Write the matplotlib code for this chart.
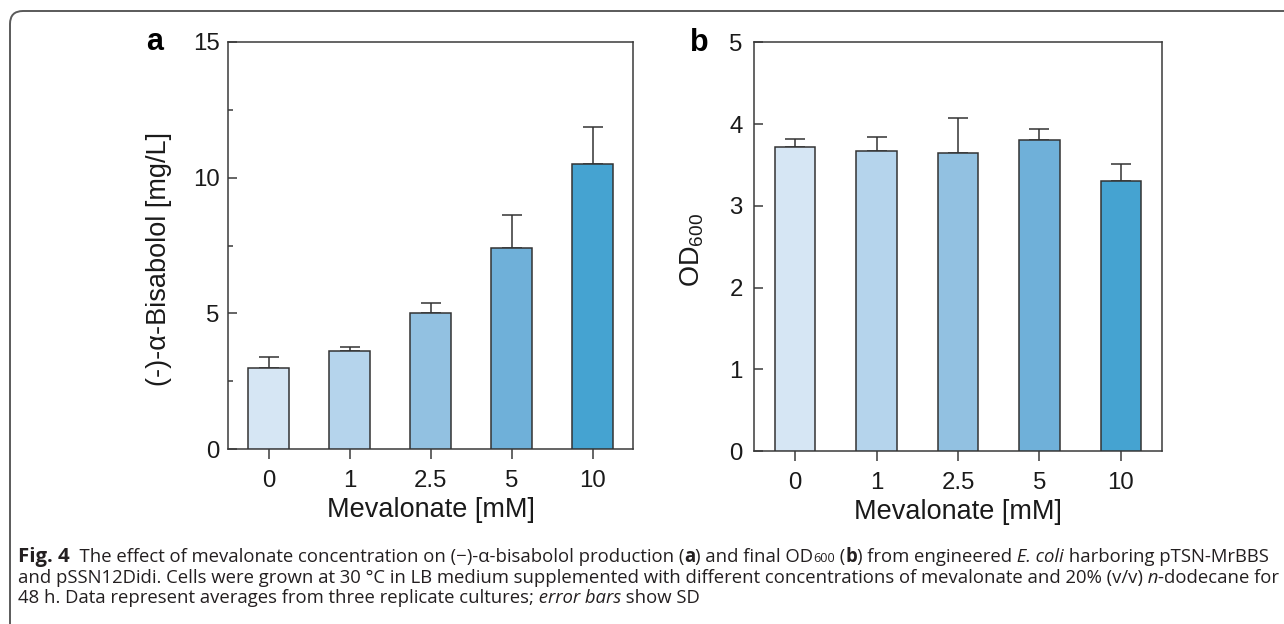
import matplotlib
matplotlib.use("Agg")
import matplotlib.pyplot as plt
import numpy as np
from matplotlib.patches import FancyBboxPatch
from matplotlib.ticker import MultipleLocator
from matplotlib.offsetbox import TextArea, HPacker, AnchoredOffsetbox

plt.rcParams['font.family'] = ['Liberation Sans', 'DejaVu Sans']
plt.rcParams['mathtext.fontset'] = 'custom'
plt.rcParams['mathtext.rm'] = 'Liberation Sans'
plt.rcParams['mathtext.it'] = 'Liberation Sans:italic'
plt.rcParams['mathtext.bf'] = 'Liberation Sans:bold'

# ---- data ----
categories = ["0", "1", "2.5", "5", "10"]
bisabolol_mean = [3.00, 3.62, 5.02, 7.42, 10.49]
bisabolol_sd = [0.41, 0.13, 0.38, 1.19, 1.37]
od600_mean = [3.72, 3.67, 3.65, 3.80, 3.30]
od600_sd = [0.10, 0.17, 0.42, 0.14, 0.21]
bar_colors = ["#d6e6f4", "#b5d4ec", "#92c1e1", "#6fb0d9", "#45a3d1"]

W, H = 1284, 624
fig = plt.figure(figsize=(W / 100, H / 100), dpi=100)

# rounded border frame (in inches)
frame = FancyBboxPatch((0.10, -1.0), 14.0, (H - 11) / 100 + 1.0,
                       boxstyle="round,pad=0,rounding_size=0.13",
                       transform=fig.dpi_scale_trans, fill=False,
                       edgecolor="#5a5a5a", linewidth=1.4, clip_on=False)
fig.patches.append(frame)

edge = "#333333"
spine_c = "#3a3a3a"
tick_fs = 17.3
label_fs = 19.5
txt_c = "#1a1a1a"


def px_axes(left, top, right, bottom):
    return [left / W, 1 - bottom / H, (right - left) / W, (bottom - top) / H]


def style_axes(ax, ypad):
    for s in ax.spines.values():
        s.set_color(spine_c)
        s.set_linewidth(1.1)
    ax.tick_params(axis='y', direction='in', length=6.5, width=1.1,
                   color=spine_c, labelsize=tick_fs, pad=ypad, labelcolor=txt_c)
    ax.tick_params(axis='y', which='minor', direction='in', length=3.6, width=1.1,
                   color=spine_c)
    ax.tick_params(axis='x', direction='out', length=7.2, width=1.1,
                   color=spine_c, labelsize=tick_fs, pad=8, labelcolor=txt_c)


def draw_panel(ax, means, sds, ymax, major, minor, ylabel, ypad):
    x = np.arange(len(categories))
    ax.bar(x, means, width=0.5, color=bar_colors, edgecolor=edge,
           linewidth=1.1, zorder=3)
    ax.errorbar(x, means, yerr=[np.zeros(len(sds)), sds], fmt='none',
                ecolor=edge, elinewidth=1.1, capsize=7.2, capthick=1.1, zorder=2)
    ax.set_xlim(-0.5, len(categories) - 0.5)
    ax.set_ylim(0, ymax)
    ax.set_xticks(x)
    ax.set_xticklabels(categories)
    ax.yaxis.set_major_locator(MultipleLocator(major))
    if minor:
        ax.yaxis.set_minor_locator(MultipleLocator(minor))
    ax.set_xlabel("Mevalonate [mM]", fontsize=label_fs, color=txt_c, labelpad=3.5)
    ax.set_ylabel(ylabel, fontsize=label_fs, color=txt_c)
    style_axes(ax, ypad)


a_box = (228, 41.7, 633, 449.3)
b_box = (754.3, 42.3, 1161.7, 451.3)

ax1 = fig.add_axes(px_axes(*a_box))
draw_panel(ax1, bisabolol_mean, bisabolol_sd, 15, 5, 2.5, "(-)-α-Bisabolol [mg/L]", 6.0)
ax1.yaxis.set_label_coords((172 - a_box[0]) / (a_box[2] - a_box[0]),
                           1 - (259 - a_box[1]) / (a_box[3] - a_box[1]))

ax2 = fig.add_axes(px_axes(*b_box))
draw_panel(ax2, od600_mean, od600_sd, 5, 1, None, r"OD$_{600}$", 8.4)
ax2.yaxis.set_label_coords((706 - b_box[0]) / (b_box[2] - b_box[0]),
                           1 - (250 - b_box[1]) / (b_box[3] - b_box[1]))

fig.text(155 / W, 1 - 42 / H, "a", fontsize=22, fontweight='bold', ha='center', va='center')
fig.text(699 / W, 1 - 43 / H, "b", fontsize=22, fontweight='bold', ha='center', va='center')

# ---- caption ----
cap_font = "Open Sans"
cap_c = "#231f20"

caption_lines = [
    [("Fig. 4", "b"), ("  The effect of mevalonate concentration on (\u2212)-\u03b1-bisabolol production (", "n"),
     ("a", "b"), (") and final OD", "n"), ("600", "sub"), (" (", "n"), ("b", "b"),
     (") from engineered", "n"), (" E. coli", "i"), (" harboring pTSN-MrBBS", "n")],
    [("and pSSN12Didi. Cells were grown at 30 \u00b0C in LB medium supplemented with different concentrations of mevalonate and 20% (v/v)", "n"),
     (" n", "i"), ("-dodecane for", "n")],
    [("48 h. Data represent averages from three replicate cultures;", "n"), (" error bars", "i"), (" show SD", "n")],
]
baselines = [562, 583, 603]
cap_left = 18
cap_width = 1247


def seg(text, kind, fs):
    props = dict(fontsize=fs, family=cap_font, color=cap_c)
    if kind == "b":
        props["fontweight"] = "bold"
    elif kind == "fig":
        props["fontweight"] = "bold"
        props["fontsize"] = fs * 1.1
    elif kind == "i":
        props["style"] = "italic"
    elif kind == "sub":
        props["fontsize"] = fs * 0.68
    return TextArea(text, textprops=props)


def build_line(parts, fs, first):
    kids = []
    for j, (t, k) in enumerate(parts):
        if first and j == 0:
            k = "fig"
        kids.append(seg(t, k, fs))
    hp = HPacker(children=kids, pad=0, sep=0, align="baseline")
    hp.set_figure(fig)
    return hp


renderer = fig.canvas.get_renderer()
fs0 = 13.0
w0 = build_line(caption_lines[0], fs0, True).get_bbox(renderer).width
cap_fs = fs0 * cap_width / w0

for i, (parts, yb) in enumerate(zip(caption_lines, baselines)):
    hp = build_line(parts, cap_fs, i == 0)
    desc = -hp.get_bbox(renderer).y0
    ab = AnchoredOffsetbox(loc="lower left", child=hp, pad=0, borderpad=0,
                           frameon=False,
                           bbox_to_anchor=(cap_left / W, 1 - (yb + desc) / H),
                           bbox_transform=fig.transFigure)
    fig.add_artist(ab)

fig.savefig("out.png", dpi=100)
